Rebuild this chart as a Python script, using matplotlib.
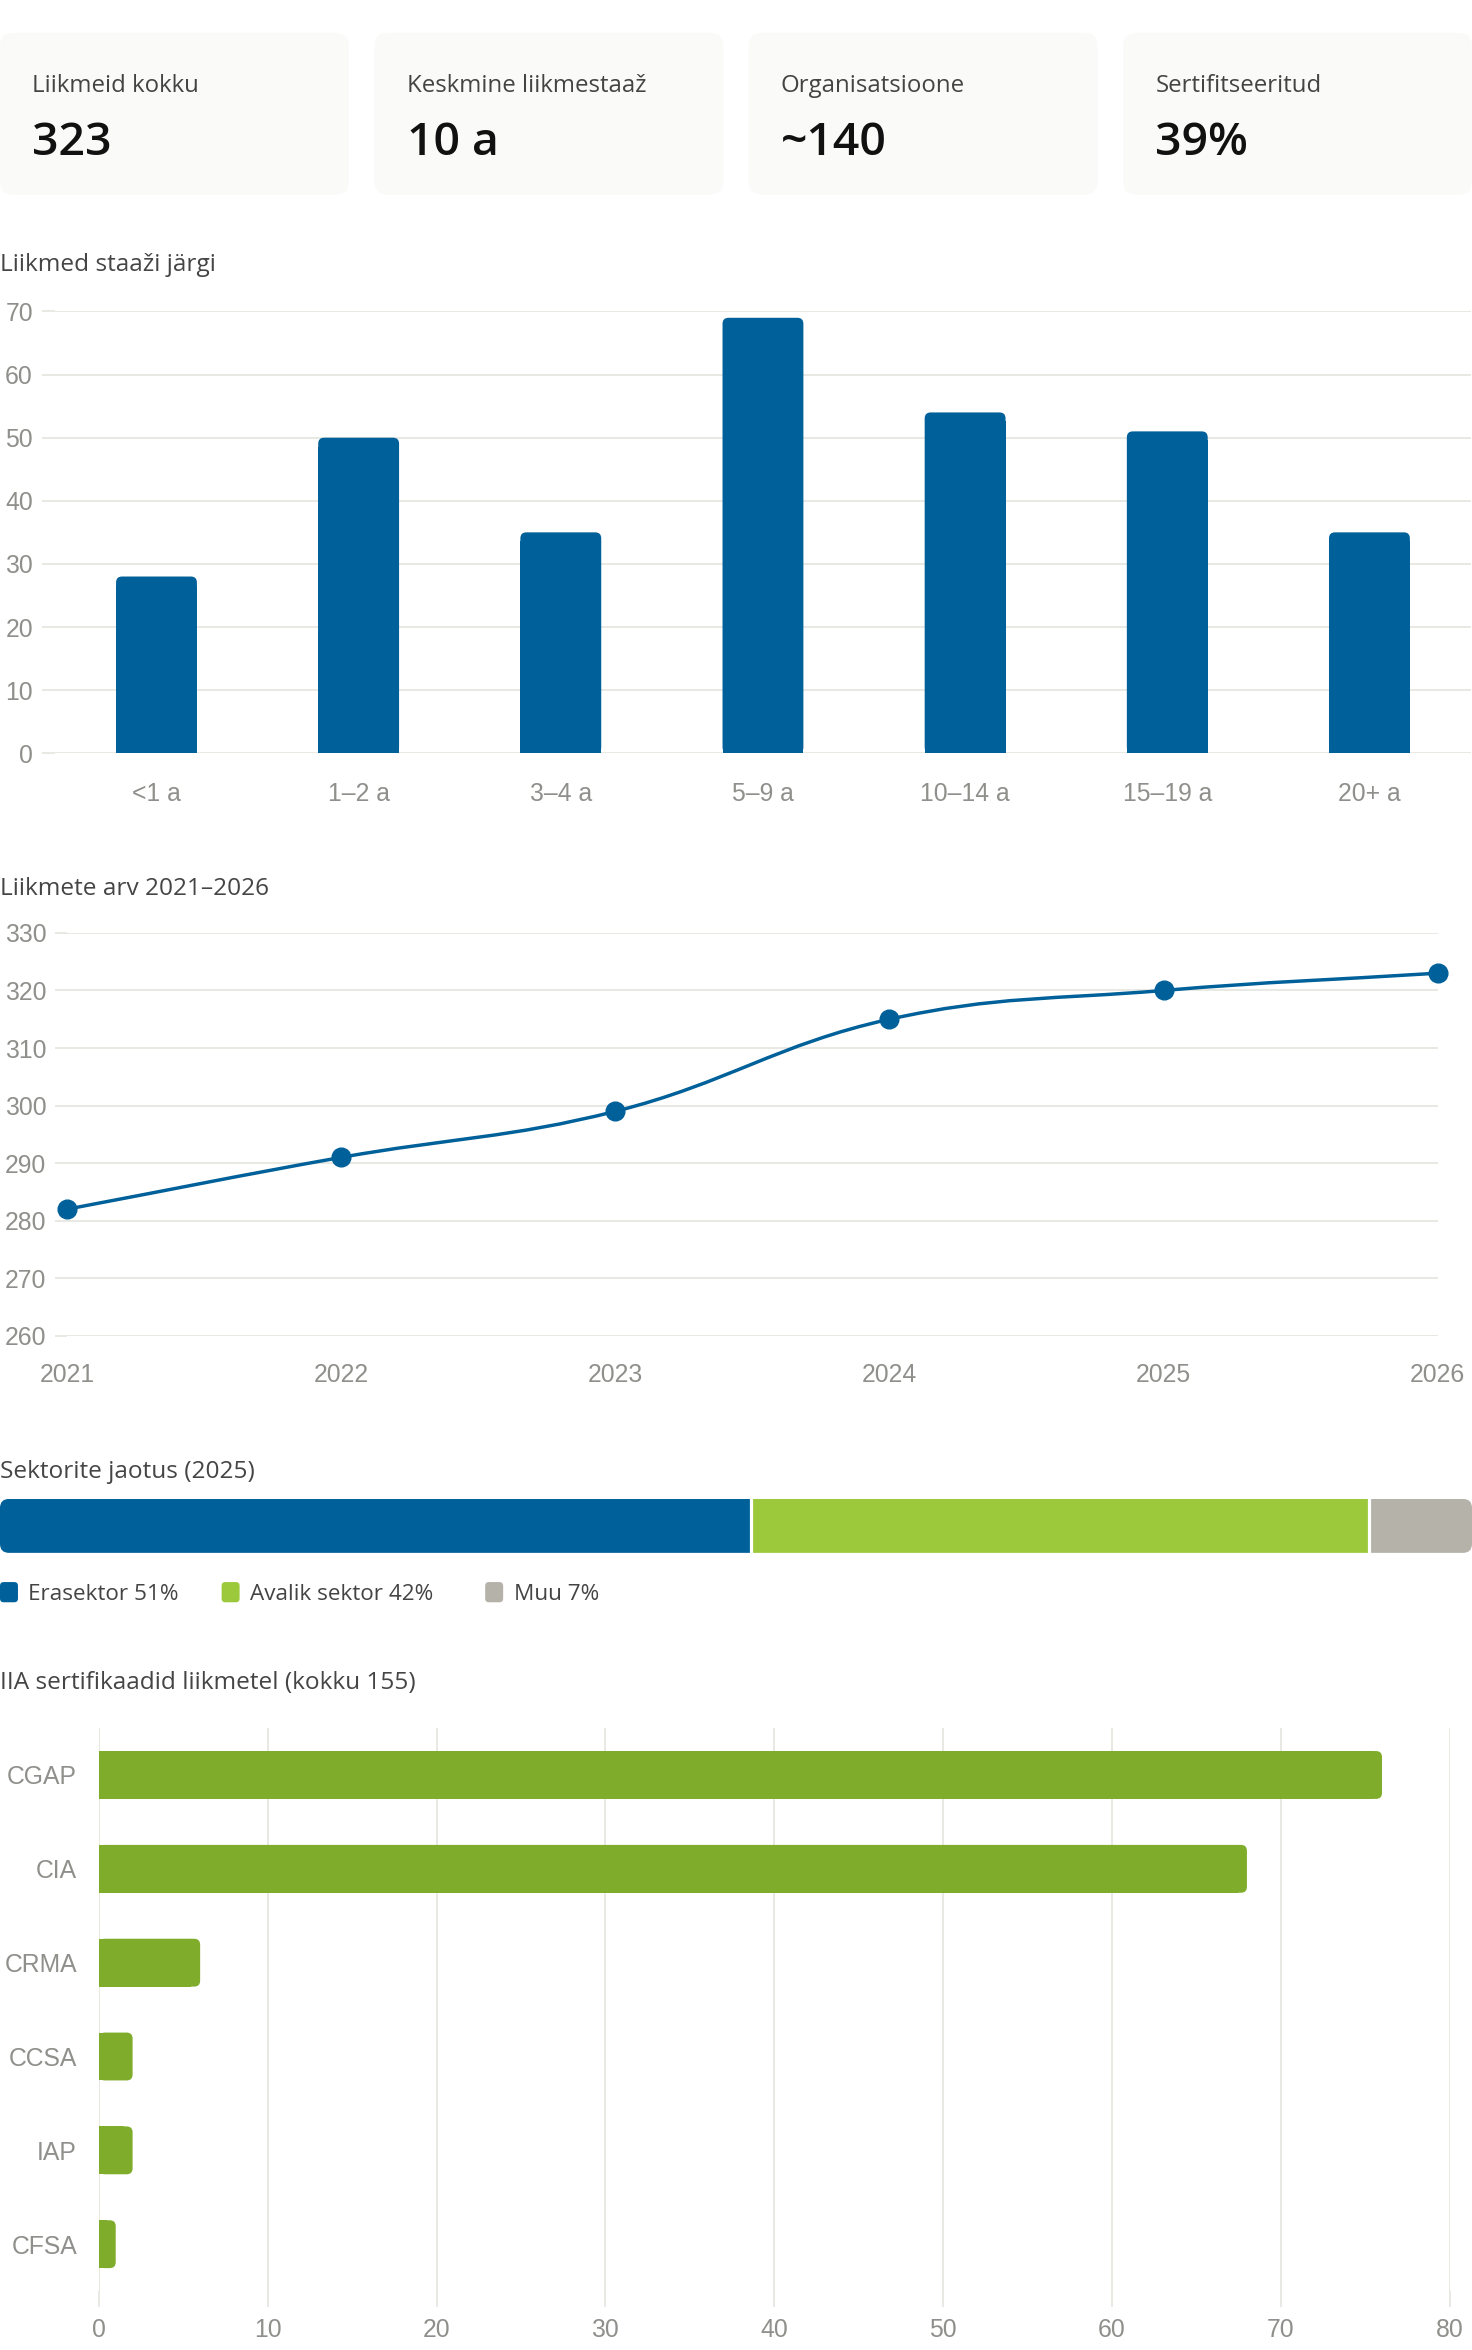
import numpy as np
import matplotlib
matplotlib.use("Agg")
import matplotlib.pyplot as plt
from matplotlib.patches import FancyBboxPatch, Rectangle, PathPatch
from matplotlib.path import Path

# ---------------- data ----------------
kpi_labels = ["Liikmeid kokku", "Keskmine liikmestaaž", "Organisatsioone", "Sertifitseeritud"]
kpi_values = ["323", "10 a", "~140", "39%"]

tenure_title = "Liikmed staaži järgi"
tenure_cats = ["<1 a", "1–2 a", "3–4 a", "5–9 a", "10–14 a", "15–19 a", "20+ a"]
tenure_counts = [28, 50, 35, 69, 54, 51, 35]

members_title = "Liikmete arv 2021–2026"
years = [2021, 2022, 2023, 2024, 2025, 2026]
members = [282, 291, 299, 315, 320, 323]

sector_title = "Sektorite jaotus (2025)"
sector_labels = ["Erasektor", "Avalik sektor", "Muu"]
sector_pct = [51, 42, 7]

cert_title = "IIA sertifikaadid liikmetel (kokku 155)"
cert_labels = ["CGAP", "CIA", "CRMA", "CCSA", "IAP", "CFSA"]
cert_counts = [76, 68, 6, 2, 2, 1]

# ---------------- style ----------------
BLUE = "#006099"
GREEN = "#9bc93b"
GREEN2 = "#7fad2b"
GRAYSEG = "#b5b2aa"
GRID = "#e3e3dc"
TICK = "#8f8f8b"
TITLE = "#454545"
CARD_BG = "#fafaf8"
TEXT_FONT = ["Open Sans", "DejaVu Sans"]
TICK_FONT = ["Liberation Sans", "DejaVu Sans"]
TICK_SIZE = 16.5

W, H, DPI = 1472, 2350, 100
S = W / 983.0          # design px -> output px
PT = S * 72.0 / DPI    # design px -> points

fig = plt.figure(figsize=(W / DPI, H / DPI), dpi=DPI)
fig.patch.set_facecolor("white")
inch = fig.dpi_scale_trans


def rect(x0, y0, x1, y1):
    return [x0 * S / W, 1 - y1 * S / H, (x1 - x0) * S / W, (y1 - y0) * S / H]


def ipos(xd, yd):
    return (xd * S / DPI, (H - yd * S) / DPI)


def ftext(xd, yd, s, size, color, weight="normal", family=TEXT_FONT, ha="left", va="baseline"):
    x, y = ipos(xd, yd)
    fig.text(x, y, s, transform=inch, fontsize=size * PT, color=color,
             fontweight=weight, family=family, ha=ha, va=va)


# ---------------- KPI cards ----------------
card_x = [0, 250, 500, 750]
for cx, lab, val in zip(card_x, kpi_labels, kpi_values):
    x0, y0 = ipos(cx, 130)
    w = 233 * S / DPI
    h = 108 * S / DPI
    r = 9 * S / DPI
    fig.patches.append(FancyBboxPatch((x0, y0), w, h,
                                      boxstyle=f"round,pad=0,rounding_size={r}",
                                      transform=inch, facecolor=CARD_BG, edgecolor="none"))
    ftext(cx + 21.5, 61.5, lab, 16, "#444444")
    ftext(cx + 21.5, 103.5, val, 31, "#111111", weight="semibold")

# section titles
ftext(0, 181, tenure_title, 16.3, TITLE)
ftext(0, 598, members_title, 16.3, TITLE)
ftext(0, 987, sector_title, 16.3, TITLE)
ftext(0, 1128, cert_title, 16.3, TITLE)


def style_axes(ax):
    for sp in ax.spines.values():
        sp.set_visible(False)
    ax.set_facecolor("none")
    ax.set_axisbelow(True)


def px_per_unit(ax):
    p0 = ax.transData.transform((0, 0))
    p1 = ax.transData.transform((1, 1))
    return abs(p1[0] - p0[0]), abs(p1[1] - p0[1])


# ---------------- chart 1: tenure bars ----------------
ax1 = fig.add_axes(rect(37, 208, 982, 503))
style_axes(ax1)
ax1.set_xlim(-0.5, 6.5)
ax1.set_ylim(0, 70)
bars = ax1.bar(range(len(tenure_cats)), tenure_counts, width=0.4, color=BLUE)
ax1.set_yticks(range(0, 71, 10))
ax1.set_xticks(range(len(tenure_cats)))
ax1.set_xticklabels(tenure_cats)
ax1.grid(axis="y", color=GRID, linewidth=1.5 * 0.72)
ax1.tick_params(axis="y", length=9 * PT, width=1.5 * 0.72, color=GRID, pad=6 * PT,
                labelsize=TICK_SIZE * PT, labelcolor=TICK)
ax1.tick_params(axis="x", length=0, pad=19.5 * PT, labelsize=TICK_SIZE * PT, labelcolor=TICK)
for lab in ax1.get_xticklabels() + ax1.get_yticklabels():
    lab.set_family(TICK_FONT)

ppx, ppy = px_per_unit(ax1)
r_px = 4 * S
for b in list(bars):
    x, y, w, h = b.get_x(), b.get_y(), b.get_width(), b.get_height()
    rx = r_px / ppx
    ry = r_px / ppy
    ax1.add_patch(FancyBboxPatch((x, y), w, h, boxstyle=f"round,pad=0,rounding_size={rx}",
                                 mutation_aspect=ppx / ppy, facecolor=BLUE, edgecolor="none"))
    ax1.add_patch(Rectangle((x, y), w, h - ry * 1.5, facecolor=BLUE, edgecolor="none"))
    b.remove()

# ---------------- chart 2: members line ----------------
ax2 = fig.add_axes(rect(45, 623, 960, 892))
style_axes(ax2)
ax2.set_xlim(years[0], years[-1])
ax2.set_ylim(260, 330)
ax2.set_yticks(range(260, 331, 10))
ax2.set_xticks(years)
ax2.grid(axis="y", color=GRID, linewidth=1.5 * 0.72)
ax2.tick_params(axis="y", length=8 * PT, width=1.5 * 0.72, color=GRID, pad=6 * PT,
                labelsize=TICK_SIZE * PT, labelcolor=TICK)
ax2.tick_params(axis="x", length=0, pad=18.5 * PT, labelsize=TICK_SIZE * PT, labelcolor=TICK)
for lab in ax2.get_xticklabels() + ax2.get_yticklabels():
    lab.set_family(TICK_FONT)

pts = ax2.transData.transform(np.column_stack([years, members]).astype(float))
n = len(pts)
tension = 0.4
cp_prev = np.zeros_like(pts)
cp_next = np.zeros_like(pts)
for i in range(n):
    prev = pts[max(i - 1, 0)]
    cur = pts[i]
    nxt = pts[min(i + 1, n - 1)]
    d01 = np.hypot(*(cur - prev))
    d12 = np.hypot(*(nxt - cur))
    tot = d01 + d12
    s01 = d01 / tot if tot else 0
    s12 = d12 / tot if tot else 0
    cp_prev[i] = cur - tension * s01 * (nxt - prev)
    cp_next[i] = cur + tension * s12 * (nxt - prev)
verts = [pts[0]]
codes = [Path.MOVETO]
for i in range(n - 1):
    verts += [cp_next[i], cp_prev[i + 1], pts[i + 1]]
    codes += [Path.CURVE4] * 3
inv = ax2.transData.inverted()
verts = inv.transform(np.array(verts))
ax2.add_patch(PathPatch(Path(verts, codes), facecolor="none", edgecolor=BLUE,
                        linewidth=2.3 * PT, clip_on=False, zorder=2))
ax2.plot(years, members, "o", color=BLUE, markersize=12.5 * PT, clip_on=False, zorder=3)

# ---------------- chart 3: sector stacked bar ----------------
ax3 = fig.add_axes(rect(0, 1001, 983, 1037))
style_axes(ax3)
ax3.set_xlim(0, 100)
ax3.set_ylim(0, 1)
ax3.set_xticks([])
ax3.set_yticks([])
sector_colors = [BLUE, GREEN, GRAYSEG]
lefts = np.concatenate([[0], np.cumsum(sector_pct)[:-1]])
sbars = ax3.barh(0.5, sector_pct, left=lefts, height=1.0, color=sector_colors)
axw_px = 983 * S
axh_px = 36 * S
rr = 6 * S / axw_px
clip = FancyBboxPatch((0, 0), 1, 1, boxstyle=f"round,pad=0,rounding_size={rr}",
                      mutation_aspect=axw_px / axh_px, transform=ax3.transAxes,
                      facecolor="none", edgecolor="none")
ax3.add_patch(clip)
for b in sbars:
    b.set_clip_path(clip)
for bnd in np.cumsum(sector_pct)[:-1]:
    ax3.axvline(bnd, color="white", linewidth=3.2 * 0.72)

# legend
leg_x = [0, 148, 324]
for lx, lab, pct, col in zip(leg_x, sector_labels, sector_pct, sector_colors):
    x0, y0 = ipos(lx, 1070)
    fig.patches.append(FancyBboxPatch((x0, y0), 12 * S / DPI, 13.5 * S / DPI,
                                      boxstyle=f"round,pad=0,rounding_size={2.5 * S / DPI}",
                                      transform=inch, facecolor=col, edgecolor="none"))
    ftext(lx + 19, 1068.5, f"{lab} {pct}%", 15, "#444444")

# ---------------- chart 4: certificates ----------------
ax4 = fig.add_axes(rect(66, 1154, 968, 1530))
style_axes(ax4)
ax4.set_xlim(0, 80)
ax4.set_ylim(len(cert_labels) - 0.5, -0.5)
cbars = ax4.barh(range(len(cert_labels)), cert_counts, height=0.51, color=GREEN2)
ax4.set_xticks(range(0, 81, 10))
ax4.set_yticks(range(len(cert_labels)))
ax4.set_yticklabels(cert_labels)
ax4.grid(axis="x", color=GRID, linewidth=1.5 * 0.72)
ax4.tick_params(axis="x", length=11 * PT, width=1.5 * 0.72, color=GRID, pad=7 * PT,
                labelsize=TICK_SIZE * PT, labelcolor=TICK)
ax4.tick_params(axis="y", length=0, pad=14.5 * PT, labelsize=TICK_SIZE * PT, labelcolor=TICK)
for lab in ax4.get_xticklabels() + ax4.get_yticklabels():
    lab.set_family(TICK_FONT)

ppx, ppy = px_per_unit(ax4)
for b in list(cbars):
    x, y, w, h = b.get_x(), b.get_y(), b.get_width(), b.get_height()
    rx = r_px / ppx
    ax4.add_patch(FancyBboxPatch((x, y), w, h, boxstyle=f"round,pad=0,rounding_size={rx}",
                                 mutation_aspect=ppx / ppy, facecolor=GREEN2, edgecolor="none"))
    ax4.add_patch(Rectangle((x, y), max(w - rx * 1.5, 0), h, facecolor=GREEN2, edgecolor="none"))
    b.remove()

fig.savefig("out.png", dpi=DPI, facecolor="white")
